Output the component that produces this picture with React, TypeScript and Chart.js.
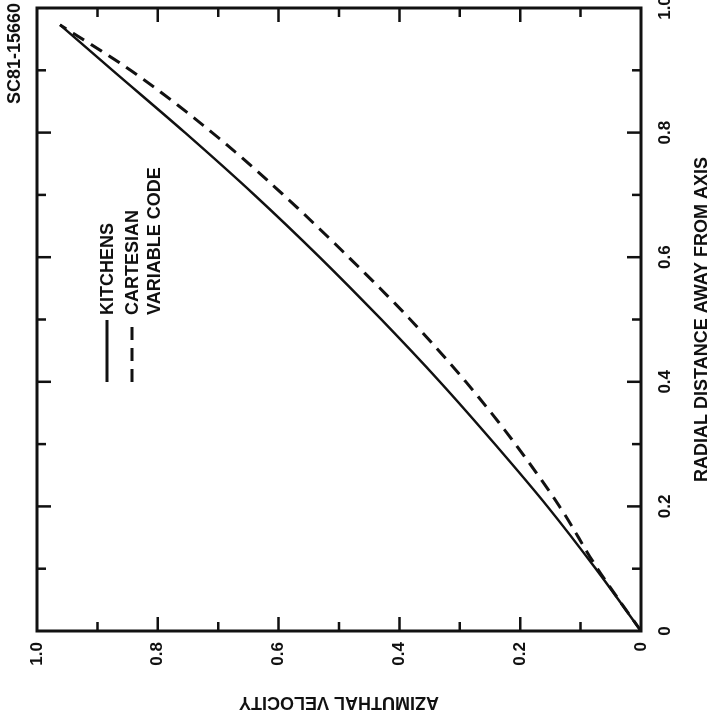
import React, { useEffect, useRef } from "react";
import { Chart, registerables } from "chart.js";

Chart.register(...registerables);

// ---- data (original, unrotated orientation: x = radial distance, y = azimuthal velocity)
const RADIAL_DISTANCE = [0, 0.1, 0.2, 0.3, 0.4, 0.5, 0.6, 0.7, 0.8, 0.9, 0.973];
const KITCHENS_VELOCITY = [0, 0.075, 0.155, 0.242, 0.333, 0.43, 0.532, 0.64, 0.755, 0.875, 0.962];
const CARTESIAN_VELOCITY = [0, 0.072, 0.135, 0.208, 0.29, 0.382, 0.484, 0.592, 0.71, 0.845, 0.962];

const TICK_VALUES = [0, 0.2, 0.4, 0.6, 0.8, 1.0];
const TICK_LABELS = ["0", "0.2", "0.4", "0.6", "0.8", "1.0"];
const MINOR_TICK_VALUES = [0.1, 0.2, 0.3, 0.4, 0.5, 0.6, 0.7, 0.8, 0.9];

const SERIES_NAMES = ["KITCHENS", "CARTESIAN VARIABLE CODE"];
const LEGEND_LINES = [["KITCHENS"], ["CARTESIAN", "VARIABLE CODE"]];
const X_TITLE = "RADIAL DISTANCE AWAY FROM AXIS";
const Y_TITLE = "AZIMUTHAL VELOCITY";
const FIGURE_CODE = "SC81-15660";

const INK = "#111111";
const FONT_FAMILY = '"Liberation Sans", Arial, Helvetica, sans-serif';

function tickLabel(value: number): string {
  let best = 0;
  for (let i = 1; i < TICK_VALUES.length; i++) {
    if (Math.abs(TICK_VALUES[i] - value) < Math.abs(TICK_VALUES[best] - value)) best = i;
  }
  return Math.abs(TICK_VALUES[best] - value) < 1e-6 ? TICK_LABELS[best] : "";
}

const framePlugin = {
  id: "frameAndLegend",
  afterDatasetsDraw(chart: any) {
    const { ctx, chartArea } = chart;
    const { left, right, top, bottom } = chartArea;
    const xs = chart.scales.x;
    const ys = chart.scales.y;
    ctx.save();
    ctx.strokeStyle = INK;
    ctx.lineCap = "butt";

    // frame
    ctx.lineWidth = 3;
    ctx.strokeRect(left, top, right - left, bottom - top);

    // inward ticks on all four sides
    ctx.lineWidth = 2.5;
    MINOR_TICK_VALUES.forEach((v, i) => {
      const len = i % 2 === 1 ? 14 : 9;
      const px = xs.getPixelForValue(v);
      const py = ys.getPixelForValue(v);
      ctx.beginPath();
      ctx.moveTo(px, bottom);
      ctx.lineTo(px, bottom - len);
      ctx.moveTo(px, top);
      ctx.lineTo(px, top + len);
      ctx.moveTo(left, py);
      ctx.lineTo(left + len, py);
      ctx.moveTo(right, py);
      ctx.lineTo(right - len, py);
      ctx.stroke();
    });

    // legend
    const lx = left + 249;
    const lineLen = 62;
    const rows = [top + 70, top + 95];
    chart.data.datasets.forEach((ds: any, i: number) => {
      const yy = rows[i];
      ctx.beginPath();
      ctx.lineWidth = 3;
      ctx.setLineDash(ds.borderDash || []);
      ctx.moveTo(lx, yy);
      ctx.lineTo(lx + lineLen, yy);
      ctx.stroke();
      ctx.setLineDash([]);
      ctx.fillStyle = INK;
      ctx.font = `bold 18px ${FONT_FAMILY}`;
      ctx.textAlign = "left";
      ctx.textBaseline = "middle";
      LEGEND_LINES[i].forEach((t, j) => {
        ctx.fillText(t, lx + lineLen + 5, yy + 1 + j * 22);
      });
    });

    // figure code
    ctx.font = `bold 18px ${FONT_FAMILY}`;
    ctx.textAlign = "right";
    ctx.textBaseline = "middle";
    ctx.fillStyle = INK;
    ctx.fillText(FIGURE_CODE, chart.width - 3, 15);
    ctx.restore();
  },
};

export default function App() {
  const ref = useRef<HTMLCanvasElement>(null);

  useEffect(() => {
    const canvas = ref.current;
    if (!canvas) return;
    const chart = new Chart(canvas, {
      type: "line",
      data: {
        datasets: [
          {
            label: SERIES_NAMES[0],
            data: RADIAL_DISTANCE.map((r, i) => ({ x: r, y: KITCHENS_VELOCITY[i] })),
            borderColor: INK,
            borderWidth: 2.5,
            pointRadius: 0,
            cubicInterpolationMode: "monotone",
            fill: false,
          },
          {
            label: SERIES_NAMES[1],
            data: RADIAL_DISTANCE.map((r, i) => ({ x: r, y: CARTESIAN_VELOCITY[i] })),
            borderColor: INK,
            borderWidth: 3,
            borderDash: [13, 8],
            pointRadius: 0,
            cubicInterpolationMode: "monotone",
            fill: false,
          },
        ],
      },
      options: {
        responsive: false,
        animation: false,
        devicePixelRatio: 1,
        layout: { padding: { top: 37, right: 8, left: 0, bottom: 0 } },
        plugins: {
          legend: { display: false },
          tooltip: { enabled: false },
          title: { display: false },
        },
        scales: {
          x: {
            type: "linear",
            min: 0,
            max: 1,
            grid: { display: false, drawTicks: false },
            border: { display: false },
            ticks: {
              stepSize: 0.2,
              autoSkip: false,
              maxRotation: 0,
              padding: 14,
              color: INK,
              font: { family: FONT_FAMILY, size: 17, weight: "bold" },
              callback: (v: any) => tickLabel(Number(v)),
            },
            title: {
              display: true,
              text: X_TITLE,
              color: INK,
              font: { family: FONT_FAMILY, size: 18, weight: "bold" },
              padding: { top: 0, bottom: 0 },
            },
            afterFit: (s: any) => {
              s.height = 72;
              s.paddingLeft = 0;
              s.paddingRight = 0;
            },
          },
          y: {
            type: "linear",
            min: 0,
            max: 1,
            grid: { display: false, drawTicks: false },
            border: { display: false },
            ticks: {
              stepSize: 0.2,
              autoSkip: false,
              padding: 11,
              color: INK,
              font: { family: FONT_FAMILY, size: 17, weight: "bold" },
              callback: (v: any) => tickLabel(Number(v)),
            },
            title: {
              display: true,
              text: Y_TITLE,
              color: INK,
              font: { family: FONT_FAMILY, size: 18, weight: "bold" },
              padding: { top: 4, bottom: 0 },
            },
            afterFit: (s: any) => {
              s.width = 86;
              s.paddingTop = 0;
              s.paddingBottom = 0;
            },
          },
        },
      },
      plugins: [framePlugin],
    } as any);
    return () => chart.destroy();
  }, []);

  return (
    <div
      style={{
        position: "fixed",
        left: 0,
        top: 0,
        width: 713,
        height: 717,
        overflow: "hidden",
        background: "#ffffff",
      }}
    >
      <div
        style={{
          position: "absolute",
          left: 0,
          top: 0,
          width: 717,
          height: 713,
          transformOrigin: "0 0",
          transform: "translate(0px, 717px) rotate(-90deg)",
        }}
      >
        <canvas ref={ref} width={717} height={713} style={{ display: "block", width: 717, height: 713 }} />
      </div>
    </div>
  );
}
